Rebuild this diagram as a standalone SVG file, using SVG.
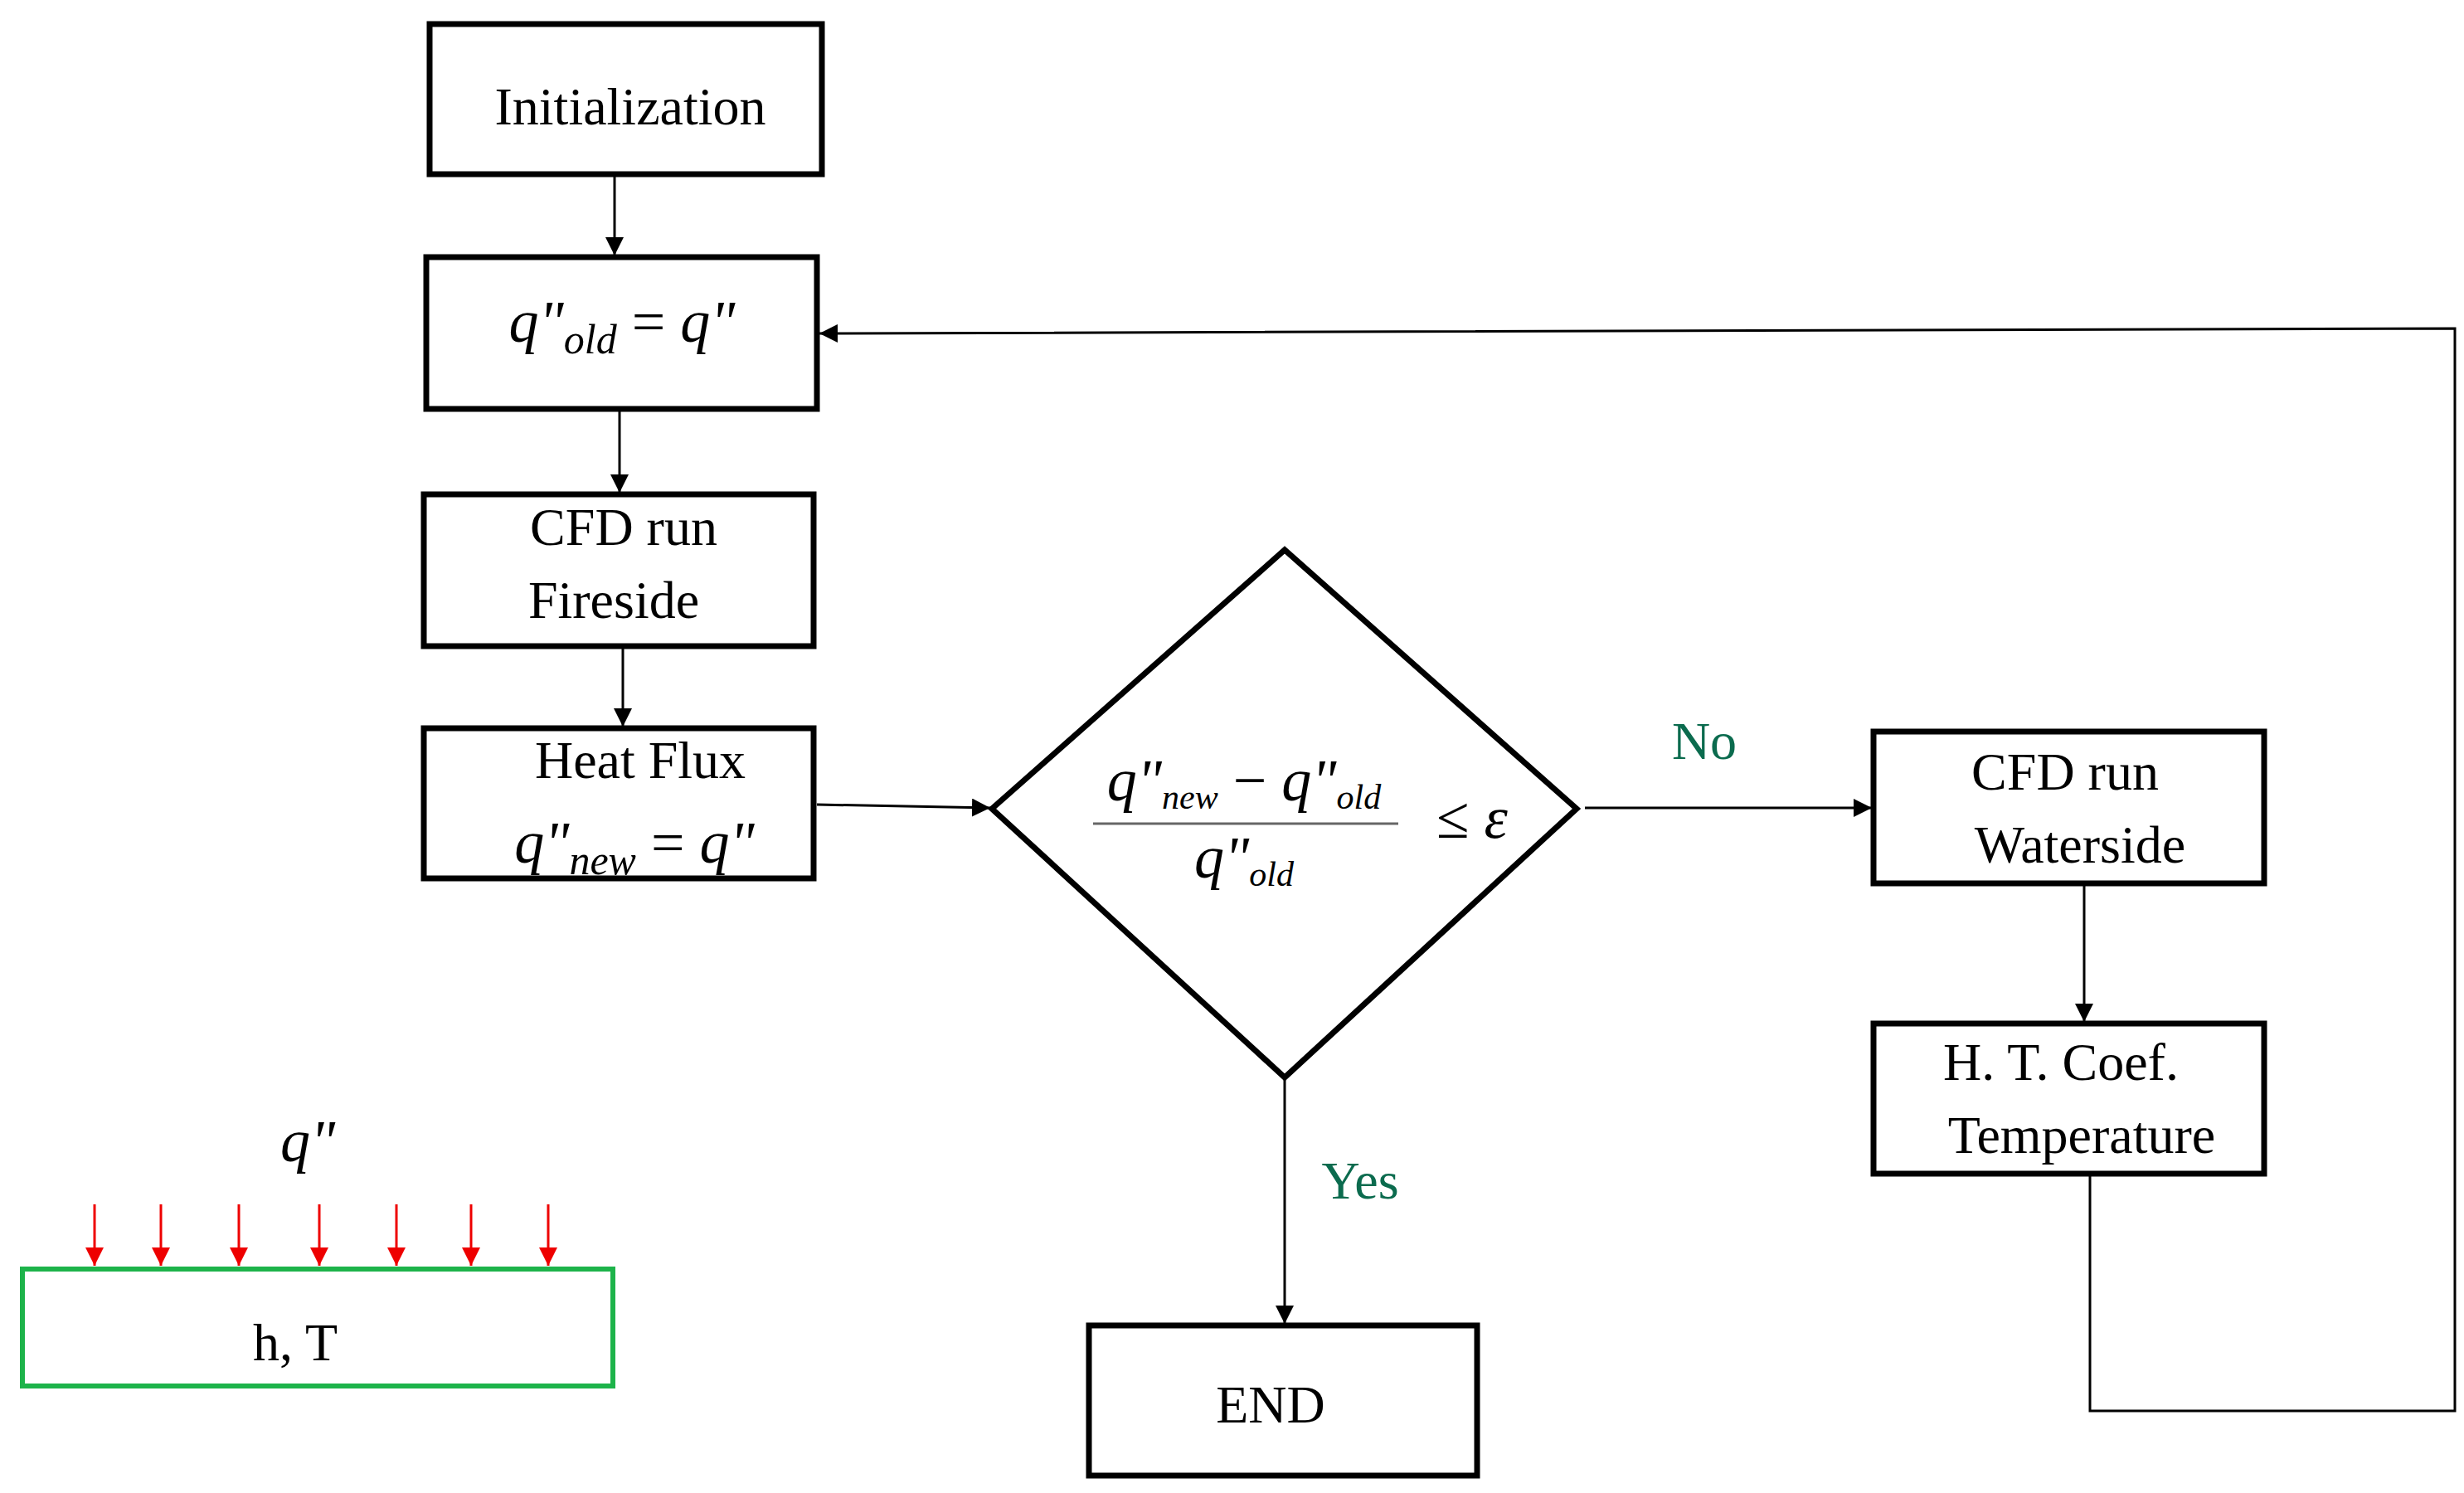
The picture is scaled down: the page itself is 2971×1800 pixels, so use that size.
<svg xmlns="http://www.w3.org/2000/svg" width="2971" height="1800" viewBox="0 0 2971 1800">
<defs>
<marker id="ah" viewBox="0 0 10 10" refX="10" refY="5" markerWidth="22" markerHeight="22" markerUnits="userSpaceOnUse" orient="auto"><path d="M0,0 L10,5 L0,10 z" fill="#000"/></marker>
<marker id="rh" viewBox="0 0 10 10" refX="10" refY="5" markerWidth="22" markerHeight="22" markerUnits="userSpaceOnUse" orient="auto"><path d="M0,0 L10,5 L0,10 z" fill="#e00"/></marker>
<style>
.box{fill:#fff;stroke:#000;stroke-width:7}
.t{font-family:"Liberation Serif",serif;font-size:64px;fill:#000;text-anchor:middle}
.m{font-family:"Liberation Serif",serif;font-style:italic;font-size:72px;fill:#000;text-anchor:middle}
.c{stroke:#000;stroke-width:3;fill:none}
.g{font-family:"Liberation Serif",serif;font-size:64px;fill:#0b6b4e;text-anchor:middle}
</style>
</defs>
<rect width="2971" height="1800" fill="#fff"/>
<g id="connectors">
<line class="c" x1="741" y1="210" x2="741" y2="308" marker-end="url(#ah)"/>
<line class="c" x1="747" y1="493" x2="747" y2="594" marker-end="url(#ah)"/>
<line class="c" x1="751" y1="779" x2="751" y2="876" marker-end="url(#ah)"/>
<line class="c" x1="985" y1="970" x2="1194" y2="974" marker-end="url(#ah)"/>
<line class="c" x1="1911" y1="974" x2="2257" y2="974" marker-end="url(#ah)"/>
<line class="c" x1="2513" y1="1065" x2="2513" y2="1232" marker-end="url(#ah)"/>
<line class="c" x1="1549" y1="1299" x2="1549" y2="1596" marker-end="url(#ah)"/>
<polyline class="c" points="2520,1415 2520,1701 2960,1701 2960,396 988,402" marker-end="url(#ah)"/>
<text class="g" x="2055" y="915">No</text>
<text class="g" x="1640" y="1445">Yes</text>
</g>
<g id="init"><rect class="box" x="518" y="29" width="473" height="181"/><text class="t" x="760" y="150">Initialization</text></g>
<g id="qold"><rect class="box" x="514" y="310" width="471" height="183"/>
<text class="m" x="750" y="412" text-anchor="middle">q"<tspan font-size="50" dy="14">old</tspan><tspan dy="-14" font-style="normal"> = </tspan>q"</text></g>
<g id="fireside"><rect class="box" x="511" y="596" width="470" height="183"/><text class="t" x="752" y="657">CFD run</text><text class="t" x="740" y="745">Fireside</text></g>
<g id="heatflux"><rect class="box" x="511" y="878" width="470" height="181"/><text class="t" x="772" y="938">Heat Flux</text>
<text class="m" x="765" y="1040">q"<tspan font-size="50" dy="14">new</tspan><tspan dy="-14" font-style="normal"> = </tspan>q"</text></g>
<g id="decision"><polygon class="box" points="1196,975 1549,663 1901,975 1549,1299"/>
<text class="m" x="1500" y="965" font-size="56">q"<tspan font-size="42" dy="10">new</tspan><tspan dy="-10" font-style="normal"> − </tspan>q"<tspan font-size="42" dy="10">old</tspan></text>
<line x1="1318" y1="993" x2="1686" y2="993" stroke="#666" stroke-width="3"/>
<text class="m" x="1500" y="1058" font-size="56">q"<tspan font-size="42" dy="10">old</tspan></text>
<text class="m" x="1775" y="1010" font-size="56"><tspan font-style="normal">≤</tspan> ε</text></g>
<g id="waterside"><rect class="box" x="2259" y="882" width="471" height="183"/><text class="t" x="2490" y="952">CFD run</text><text class="t" x="2508" y="1040">Waterside</text></g>
<g id="htcoef"><rect class="box" x="2259" y="1234" width="471" height="181"/><text class="t" x="2485" y="1302">H. T. Coef.</text><text class="t" x="2510" y="1390">Temperature</text></g>
<g id="end"><rect class="box" x="1313" y="1598" width="468" height="181"/><text class="t" x="1532" y="1715">END</text></g>
<g id="inset">
<text class="m" x="371" y="1400">q"</text>
<g stroke="#e00" stroke-width="3">
<line x1="114" y1="1452" x2="114" y2="1526" marker-end="url(#rh)"/>
<line x1="194" y1="1452" x2="194" y2="1526" marker-end="url(#rh)"/>
<line x1="288" y1="1452" x2="288" y2="1526" marker-end="url(#rh)"/>
<line x1="385" y1="1452" x2="385" y2="1526" marker-end="url(#rh)"/>
<line x1="478" y1="1452" x2="478" y2="1526" marker-end="url(#rh)"/>
<line x1="568" y1="1452" x2="568" y2="1526" marker-end="url(#rh)"/>
<line x1="661" y1="1452" x2="661" y2="1526" marker-end="url(#rh)"/>
</g>
<rect x="27" y="1530" width="712" height="141" fill="none" stroke="#1db34a" stroke-width="6"/>
<text class="t" x="356" y="1640">h, T</text>
</g>
</svg>
